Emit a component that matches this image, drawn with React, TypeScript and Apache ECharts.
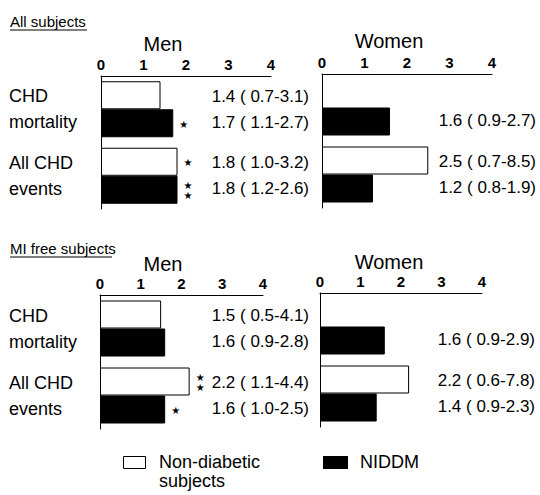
import React, { useEffect, useRef } from 'react';
import * as echarts from 'echarts';

const FONT = '"Liberation Sans", Arial, Helvetica, sans-serif';

// ---------- data ----------
const categories = ['CHD mortality', 'All CHD events'];
const categoryLabelLines = ['CHD\nmortality', 'All CHD\nevents'];
const axisMin = 0;
const axisMax = 4;
const axisStep = 1;

const seriesNames = ['Non-diabetic subjects', 'NIDDM'];

// All subjects — Men
const menAllNonDiabetic = [1.4, 1.8];
const menAllNonDiabeticCI = ['0.7-3.1', '1.0-3.2'];
const menAllNonDiabeticStars = ['', '*'];
const menAllNIDDM = [1.7, 1.8];
const menAllNIDDMCI = ['1.1-2.7', '1.2-2.6'];
const menAllNIDDMStars = ['*', '**'];

// All subjects — Women
const womenAllNonDiabetic = [null, 2.5];
const womenAllNonDiabeticCI = [null, '0.7-8.5'];
const womenAllNonDiabeticStars = ['', ''];
const womenAllNIDDM = [1.6, 1.2];
const womenAllNIDDMCI = ['0.9-2.7', '0.8-1.9'];
const womenAllNIDDMStars = ['', ''];

// MI free subjects — Men
const menMINonDiabetic = [1.5, 2.2];
const menMINonDiabeticCI = ['0.5-4.1', '1.1-4.4'];
const menMINonDiabeticStars = ['', '**'];
const menMINIDDM = [1.6, 1.6];
const menMINIDDMCI = ['0.9-2.8', '1.0-2.5'];
const menMINIDDMStars = ['', '*'];

// MI free subjects — Women
const womenMINonDiabetic = [null, 2.2];
const womenMINonDiabeticCI = [null, '0.6-7.8'];
const womenMINonDiabeticStars = ['', ''];
const womenMINIDDM = [1.6, 1.4];
const womenMINIDDMCI = ['0.9-2.9', '0.9-2.3'];
const womenMINIDDMStars = ['', ''];

type Panel = {
  nd: (number | null)[];
  ndCI: (string | null)[];
  ndStars: string[];
  ni: (number | null)[];
  niCI: (string | null)[];
  niStars: string[];
  showCats: boolean;
  left: number;
  width: number;
  top: number;
  height: number;
  labelRight: number;
};

const panels: Panel[] = [
  {
    nd: menAllNonDiabetic, ndCI: menAllNonDiabeticCI, ndStars: menAllNonDiabeticStars,
    ni: menAllNIDDM, niCI: menAllNIDDMCI, niStars: menAllNIDDMStars,
    showCats: true, left: 101, width: 170, top: 76, height: 133, labelRight: 309,
  },
  {
    nd: womenAllNonDiabetic, ndCI: womenAllNonDiabeticCI, ndStars: womenAllNonDiabeticStars,
    ni: womenAllNIDDM, niCI: womenAllNIDDMCI, niStars: womenAllNIDDMStars,
    showCats: false, left: 322, width: 170, top: 74, height: 134, labelRight: 536,
  },
  {
    nd: menMINonDiabetic, ndCI: menMINonDiabeticCI, ndStars: menMINonDiabeticStars,
    ni: menMINIDDM, niCI: menMINIDDMCI, niStars: menMINIDDMStars,
    showCats: true, left: 100, width: 163, top: 295, height: 134, labelRight: 309,
  },
  {
    nd: womenMINonDiabetic, ndCI: womenMINonDiabeticCI, ndStars: womenMINonDiabeticStars,
    ni: womenMINIDDM, niCI: womenMINIDDMCI, niStars: womenMINIDDMStars,
    showCats: false, left: 320, width: 162, top: 293, height: 134, labelRight: 535,
  },
];

const fmt = (v: number | null, ci: string | null) =>
  v == null || ci == null ? ' ' : `${v.toFixed(1)} ( ${ci})`;

export default function App() {
  const ref = useRef<HTMLDivElement>(null);

  useEffect(() => {
    if (!ref.current) return;
    const chart = echarts.init(ref.current, undefined, { renderer: 'svg' });

    const grids: any[] = [];
    const xAxes: any[] = [];
    const yAxes: any[] = [];
    const series: any[] = [];

    panels.forEach((p, i) => {
      grids.push({ left: p.left, top: p.top, width: p.width, height: p.height });
      xAxes.push({
        type: 'value',
        gridIndex: i,
        position: 'top',
        min: axisMin,
        max: axisMax,
        interval: axisStep,
        axisLine: { show: true, lineStyle: { color: '#000', width: 1 } },
        axisTick: { show: false },
        splitLine: { show: false },
        axisLabel: {
          show: true,
          showMinLabel: true,
          showMaxLabel: true,
          margin: 4,
          color: '#000',
          fontSize: 15,
          fontWeight: 'bold',
          fontFamily: FONT,
        },
      });
      yAxes.push({
        type: 'category',
        gridIndex: i,
        inverse: true,
        data: categories,
        position: 'left',
        axisLine: { show: true, lineStyle: { color: '#000', width: 1 } },
        axisTick: { show: false },
        axisLabel: {
          show: p.showCats,
          align: 'left',
          margin: p.left - 9,
          color: '#000',
          fontSize: 18,
          lineHeight: 26,
          padding: [5, 0, 0, 0],
          fontFamily: FONT,
          formatter: (_v: string, idx: number) => categoryLabelLines[idx],
        },
      });
      yAxes.push({
        type: 'category',
        gridIndex: i,
        inverse: true,
        data: categories,
        position: 'right',
        axisLine: { show: false },
        axisTick: { show: false },
        axisLabel: {
          show: true,
          align: 'right',
          margin: p.labelRight - (p.left + p.width),
          color: '#000',
          fontSize: 17,
          lineHeight: 26,
          padding: [5, 0, 0, 0],
          fontFamily: FONT,
          formatter: (_v: string, idx: number) =>
            `${fmt(p.nd[idx], p.ndCI[idx])}\n${fmt(p.ni[idx], p.niCI[idx])}`,
        },
      });

      const starLabel = (stars: string[]) => ({
        show: true,
        position: 'right',
        distance: 6,
        color: '#000',
        fontSize: 10,
        lineHeight: 10,
        offset: [0, 1],
        fontFamily: '"DejaVu Sans", sans-serif',
        formatter: (prm: any) =>
          (stars[prm.dataIndex] || '').split('').map(() => '★').join('\n'),
      });

      series.push({
        type: 'bar',
        name: seriesNames[0],
        xAxisIndex: i,
        yAxisIndex: i * 2,
        data: p.nd.map((v) => (v == null ? '-' : v)),
        barWidth: 28,
        barGap: '0%',
        itemStyle: { color: '#fff', borderColor: '#000', borderWidth: 1 },
        label: starLabel(p.ndStars),
      });
      series.push({
        type: 'bar',
        name: seriesNames[1],
        xAxisIndex: i,
        yAxisIndex: i * 2,
        data: p.ni.map((v) => (v == null ? '-' : v)),
        barWidth: 28,
        barGap: '0%',
        itemStyle: { color: '#000', borderColor: '#000', borderWidth: 1 },
        label: starLabel(p.niStars),
      });
    });

    const txt = (x: number, y: number, text: string, fontSize: number, align = 'left') => ({
      type: 'text',
      x,
      y,
      style: {
        text,
        fontSize,
        fontFamily: FONT,
        fill: '#000',
        align,
        verticalAlign: 'middle',
      },
    });

    const graphic: any[] = [
      txt(10, 21, 'All subjects', 15),
      { type: 'line', shape: { x1: 10, y1: 30, x2: 87, y2: 30 }, style: { stroke: '#000', lineWidth: 1 } },
      txt(10, 248, 'MI free subjects', 15),
      { type: 'line', shape: { x1: 10, y1: 257, x2: 112, y2: 257 }, style: { stroke: '#000', lineWidth: 1 } },
      txt(163, 44, 'Men', 20, 'center'),
      txt(389, 41, 'Women', 20, 'center'),
      txt(163, 264, 'Men', 20, 'center'),
      txt(389, 262, 'Women', 20, 'center'),
      // legend
      { type: 'rect', shape: { x: 123.5, y: 456.5, width: 22, height: 12 }, style: { fill: '#fff', stroke: '#000', lineWidth: 1 } },
      txt(159, 462, 'Non-diabetic', 18),
      txt(159, 481, 'subjects', 18),
      { type: 'rect', shape: { x: 323, y: 456, width: 25, height: 13 }, style: { fill: '#000' } },
      txt(360, 462, 'NIDDM', 18),
    ];

    chart.setOption({
      animation: false,
      backgroundColor: '#fff',
      grid: grids,
      xAxis: xAxes,
      yAxis: yAxes,
      series,
      graphic,
    });

    return () => chart.dispose();
  }, []);

  return <div ref={ref} style={{ width: 540, height: 495, position: 'absolute', left: 0, top: 0 }} />;
}
